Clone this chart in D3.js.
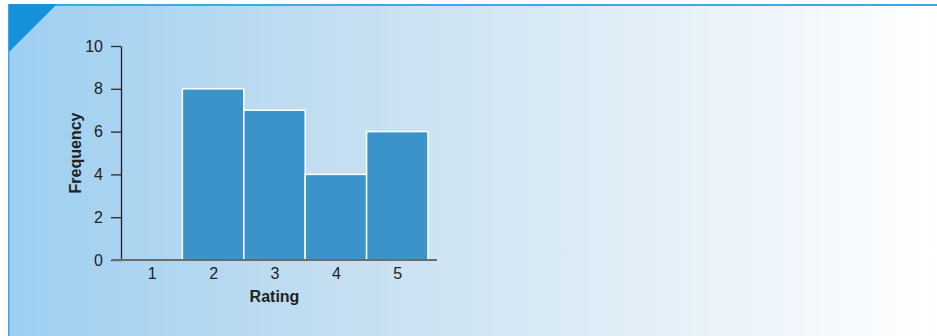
<!DOCTYPE html>
<html>
<head>
<meta charset="utf-8">
<script src="https://cdn.jsdelivr.net/npm/d3@7"></script>
<style>
  html, body { margin: 0; padding: 0; background: #fff; }
  svg { display: block; }
</style>
</head>
<body>
<svg id="chart" width="937" height="336"></svg>
<script>
// Histogram of ratings
const ratings = [1, 2, 3, 4, 5];
const frequency = [0, 8, 7, 4, 6];
const yTicks = [0, 2, 4, 6, 8, 10];

const svg = d3.select("#chart");
const W = 937, H = 336;

// Panel background: light blue fading to white
const defs = svg.append("defs");
const grad = defs.append("linearGradient").attr("id", "bg")
  .attr("x1", "0%").attr("x2", "100%").attr("y1", "0%").attr("y2", "0%");
grad.append("stop").attr("offset", "0%").attr("stop-color", "#9dcff1");
grad.append("stop").attr("offset", "35%").attr("stop-color", "#c3def0");
grad.append("stop").attr("offset", "100%").attr("stop-color", "#ffffff");

svg.append("rect").attr("x", 9).attr("y", 4).attr("width", W - 9).attr("height", H - 4)
  .attr("fill", "url(#bg)");
// Top rule and left edge
svg.append("rect").attr("x", 9).attr("y", 4).attr("width", W - 9).attr("height", 2).attr("fill", "#3ba9e9");
svg.append("rect").attr("x", 8).attr("y", 4).attr("width", 1.5).attr("height", H - 4).attr("fill", "#3ba9e9");
// Corner tab
svg.append("path").attr("d", "M9,4 L57,4 L9,52 Z").attr("fill", "#1592db");

// Scales
const x = d3.scaleLinear().domain([0.5, 5.5]).range([121, 428]);
const y = d3.scaleLinear().domain([0, 10]).range([260, 46]);

const font = "'Liberation Sans', Arial, sans-serif";

// Bars
svg.append("g").selectAll("rect").data(ratings.map((r, i) => ({ r, v: frequency[i] })).filter(d => d.v > 0))
  .join("rect")
  .attr("x", d => x(d.r - 0.5))
  .attr("width", d => x(d.r + 0.5) - x(d.r - 0.5))
  .attr("y", d => y(d.v))
  .attr("height", d => y(0) - y(d.v))
  .attr("fill", "#3a94ca")
  .attr("stroke", "#ffffff")
  .attr("stroke-width", 1.5);

// Y axis
const yAxis = svg.append("g").attr("transform", `translate(${x(0.5)},0)`)
  .call(d3.axisLeft(y).tickValues(yTicks).tickSize(10).tickPadding(8).tickSizeOuter(0));
yAxis.attr("font-size", null).attr("font-family", null);
yAxis.select(".domain").attr("stroke", "#1e1e1e").attr("stroke-width", 1.3);
yAxis.selectAll(".tick line").attr("stroke", "#2a2a2a").attr("stroke-width", 1.3);
yAxis.selectAll(".tick text").attr("font-family", font).attr("font-size", 16).attr("fill", "#222");

// X axis baseline
svg.append("line").attr("x1", 112).attr("x2", 437).attr("y1", y(0)).attr("y2", y(0))
  .attr("stroke", "#6b6b6b").attr("stroke-width", 2);

const xAxis = svg.append("g").attr("transform", `translate(0,${y(0)})`)
  .call(d3.axisBottom(x).tickValues(ratings).tickFormat(d3.format("d")).tickSize(0).tickPadding(8));
xAxis.attr("font-size", null).attr("font-family", null);
xAxis.select(".domain").remove();
xAxis.selectAll(".tick text").attr("font-family", font).attr("font-size", 16).attr("fill", "#222");

// Axis titles
svg.append("text").attr("x", x(3)).attr("y", 302).attr("text-anchor", "middle")
  .attr("font-family", font).attr("font-weight", "bold").attr("font-size", 16).attr("fill", "#222")
  .text("Rating");
svg.append("text").attr("transform", `translate(81,${y(5)}) rotate(-90)`).attr("text-anchor", "middle")
  .attr("font-family", font).attr("font-weight", "bold").attr("font-size", 16).attr("fill", "#222")
  .text("Frequency");
</script>
</body>
</html>
